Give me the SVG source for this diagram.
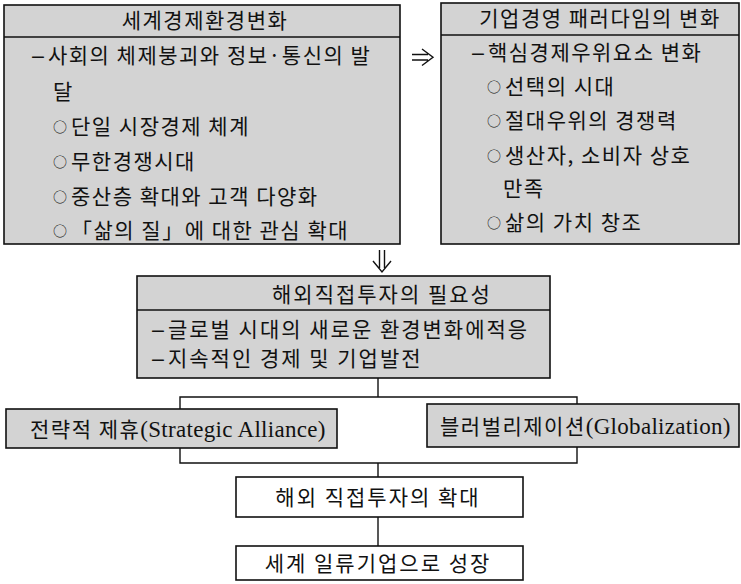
<svg xmlns="http://www.w3.org/2000/svg" width="741" height="584" viewBox="0 0 741 584">
<style>
.box{fill:#d3d3d3;stroke:#111;stroke-width:1.6}
.wbox{fill:#fff;stroke:#111;stroke-width:1.6}
.sep{stroke:#111;stroke-width:1.6}
.t{font-family:"Noto Sans CJK KR","Noto Sans",sans-serif;font-size:21px;letter-spacing:1.5px;fill:#111}
.c{text-anchor:middle}
.o{font-size:14px;letter-spacing:4px}
.d{font-family:"DejaVu Sans",sans-serif;font-size:19px;letter-spacing:2px}
.w{letter-spacing:2px}
.lat{font-family:"Liberation Serif",serif;font-size:23px;letter-spacing:0.3px}
.ln{stroke:#111;stroke-width:1.4;fill:none}
</style>
<rect width="741" height="584" fill="#fff"/>
<g id="node-world">
<rect class="box" x="4" y="5" width="396" height="239"/>
<line class="sep" x1="4" y1="37" x2="400" y2="37"/>
<text class="t c" x="205" y="28">세계경제환경변화</text>
<text class="t" x="30" y="63"><tspan class="d">−</tspan>사회의 체제붕괴와 정보·통신의 발</text>
<text class="t" x="53" y="99">달</text>
<text class="t" x="53" y="134"><tspan class="o" dy="-2">○</tspan><tspan dy="2">단일 시장경제 체계</tspan></text>
<text class="t" x="53" y="169"><tspan class="o" dy="-2">○</tspan><tspan dy="2">무한경쟁시대</tspan></text>
<text class="t" x="53" y="204"><tspan class="o" dy="-2">○</tspan><tspan dy="2">중산층 확대와 고객 다양화</tspan></text>
<text class="t" x="53" y="238"><tspan class="o" dy="-2">○</tspan><tspan dy="2">「삶의 질」에 대한 관심 확대</tspan></text>
</g>
<g id="node-paradigm">
<rect class="box" x="441" y="3" width="298" height="241"/>
<line class="sep" x1="441" y1="35" x2="739" y2="35"/>
<text class="t c" x="600" y="26">기업경영 패러다임의 변화</text>
<text class="t" x="470" y="60"><tspan class="d">−</tspan>핵심경제우위요소 변화</text>
<text class="t" x="487" y="94"><tspan class="o" dy="-2">○</tspan><tspan dy="2">선택의 시대</tspan></text>
<text class="t" x="487" y="128"><tspan class="o" dy="-2">○</tspan><tspan dy="2">절대우위의 경쟁력</tspan></text>
<text class="t" x="487" y="163"><tspan class="o" dy="-2">○</tspan><tspan dy="2">생산자, 소비자 상호</tspan></text>
<text class="t" x="503" y="196">만족</text>
<text class="t" x="487" y="230"><tspan class="o" dy="-2">○</tspan><tspan dy="2">삶의 가치 창조</tspan></text>
</g>
<g id="node-need">
<rect class="box" x="137" y="276" width="413" height="102"/>
<line class="sep" x1="137" y1="310" x2="550" y2="310"/>
<text class="t w" x="272" y="302">해외직접투자의 필요성</text>
<text class="t w" x="150" y="337"><tspan class="d">−</tspan>글로벌 시대의 새로운 환경변화에적응</text>
<text class="t w" x="150" y="366"><tspan class="d">−</tspan>지속적인 경제 및 기업발전</text>
</g>
<g id="node-alliance">
<rect class="box" x="6" y="409" width="331" height="39"/>
<text class="t" x="30" y="437">전략적 제휴<tspan class="lat">(Strategic Alliance)</tspan></text>
</g>
<g id="node-global">
<rect class="box" x="427" y="404" width="312" height="43"/>
<text class="t" x="440" y="434">블러벌리제이션<tspan class="lat">(Globalization)</tspan></text>
</g>
<g id="node-expand">
<rect class="wbox" x="236" y="477" width="287" height="40"/>
<text class="t c w" x="378" y="505">해외 직접투자의 확대</text>
</g>
<g id="node-grow">
<rect class="wbox" x="236" y="546" width="287" height="34"/>
<text class="t c w" x="378" y="571">세계 일류기업으로 성장</text>
</g>
<g id="connectors">
<path class="ln" d="M412 54.5H428M412 60H428M422 49L433 57.2L422 65.5"/>
<path class="ln" d="M379.5 250V268M384.5 250V268M373 261L382 272L391 261"/>
<path class="ln" d="M378 378V397M180 409V397H577V404"/>
<path class="ln" d="M180 448V463H577V447M378 463V477"/>
<path class="ln" d="M378 517V546"/>
</g>
</svg>
